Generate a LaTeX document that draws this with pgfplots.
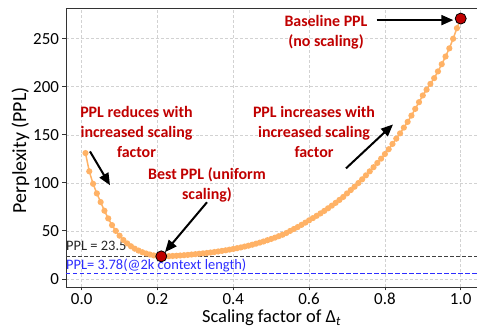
\documentclass[border=0pt]{standalone}
\usepackage{fontspec}
\setmainfont{Carlito}
\usepackage{pgfplots}
\pgfplotsset{compat=1.18}
\usetikzlibrary{arrows.meta}
\definecolor{curve}{RGB}{255,178,102}
\definecolor{dred}{RGB}{192,0,0}
\definecolor{pblue}{RGB}{45,45,255}
\begin{document}
\begin{tikzpicture}
\useasboundingbox (-66bp,-41bp) rectangle (411bp,287bp);
\begin{axis}[
  at={(0,0)}, anchor=south west,
  scale only axis, width=411bp, height=279bp,
  xmin=-0.0414, xmax=1.043, ymin=-8.4, ymax=282,
  axis x line*=box, axis y line*=left,
  axis line style={black!80, line width=0.9bp, -},
  xtick={0,0.2,0.4,0.6,0.8,1.0},
  xticklabels={0.0,0.2,0.4,0.6,0.8,1.0},
  ytick={0,50,100,150,200,250},
  tick pos=left,
  tick align=outside, major tick length=3.5bp,
  tick style={black!80, line width=0.8bp},
  /pgf/number format/assume math mode=true,
  tick label style={font=\fontsize{17}{20}\selectfont},
  xticklabel style={yshift=1bp},
  grid=major,
  grid style={densely dashed, gray!35, line width=0.6bp},
  xlabel={Scaling factor of Δ\textsubscript{\textit{t}}},
  xlabel style={font=\fontsize{18.5}{22}\selectfont, at={(axis description cs:0.5,-0.1275)}, anchor=base, inner sep=0pt},
  ylabel={Perplexity (PPL)},
  ylabel style={font=\fontsize{20}{24}\selectfont, at={(axis description cs:-0.0973,0.49)}, anchor=base},
  clip=false,
]
\addplot[black!75, dash pattern=on 4bp off 2bp, line width=1bp] coordinates {(-0.0414,23.5) (1.043,23.5)};
\addplot[pblue, dash pattern=on 4.5bp off 2.5bp, line width=1.1bp] coordinates {(-0.0414,5.8) (1.043,5.8)};
\addplot[curve, line width=1.5bp, mark=*, mark size=2.3bp, mark options={fill=curve, draw=curve}] coordinates {
(0.01,131) (0.02,112) (0.03,99) (0.04,89) (0.05,80) (0.06,71) (0.07,63) (0.08,56) (0.09,50) (0.10,45)
(0.11,40.5) (0.12,37) (0.13,34) (0.14,31.5) (0.15,29.5) (0.16,27.8) (0.17,26.5) (0.18,25.4) (0.19,24.5) (0.20,23.9)
(0.21,23.5) (0.22,23.6) (0.23,23.7) (0.24,23.9) (0.25,24.1) (0.26,24.4) (0.27,24.7) (0.28,25.0) (0.29,25.4) (0.30,25.8)
(0.31,26.2) (0.32,26.6) (0.33,27.0) (0.34,27.5) (0.35,28.0) (0.36,28.6) (0.37,29.2) (0.38,29.8) (0.39,30.5) (0.40,31.2)
(0.41,32.0) (0.42,32.8) (0.43,33.7) (0.44,34.6) (0.45,35.6) (0.46,36.7) (0.47,37.8) (0.48,39.0) (0.49,40.3) (0.50,41.6)
(0.51,43.0) (0.52,44.5) (0.53,46.0) (0.54,47.8) (0.55,50.0) (0.56,52.0) (0.57,54.0) (0.58,56.3) (0.59,58.6) (0.60,61.0)
(0.61,63.3) (0.62,65.7) (0.63,68.2) (0.64,70.8) (0.65,73.5) (0.66,76.3) (0.67,79.2) (0.68,82.2) (0.69,85.3) (0.70,89.0)
(0.71,92.5) (0.72,96.0) (0.73,99.8) (0.74,103.7) (0.75,107.8) (0.76,112.0) (0.77,116.3) (0.78,120.7) (0.79,125.2) (0.80,130.0)
(0.81,135.0) (0.82,140.5) (0.83,146.0) (0.84,151.5) (0.85,157.5) (0.86,163.5) (0.87,170.0) (0.88,177.0) (0.89,184.0) (0.90,191.0)
(0.91,197.0) (0.92,203.0) (0.93,209.0) (0.94,216.0) (0.95,223.5) (0.96,231.5) (0.97,240.0) (0.98,250.0) (0.99,261.0) (1.00,271.0)
};
\addplot[only marks, mark=*, mark size=5.5bp, mark options={fill=dred, draw=black, line width=0.8bp}] coordinates {(0.21,23.5) (1.0,271)};
\tikzset{ann/.style={text=dred, font=\fontsize{16}{20}\selectfont\bfseries, align=center, inner sep=0pt},
         arr/.style={black, line width=2bp, -{Triangle[length=12bp,width=10bp]}}}
\node[ann] at (axis cs:0.6446,256.6) {Baseline PPL\\(no scaling)};
\draw[arr] (axis cs:0.778,269.4) -- (axis cs:0.9805,269.4);
\node[ann] at (axis cs:0.1446,152.8) {PPL reduces with\\increased scaling\\factor};
\draw[arr] (axis cs:0.0219,132.7) -- (axis cs:0.0747,97.5);
\node[ann] at (axis cs:0.3306,97.8) {Best PPL (uniform\\scaling)};
\draw[arr] (axis cs:0.3306,79.8) -- (axis cs:0.2198,27.9);
\node[ann] at (axis cs:0.613,153.1) {PPL increases with\\increased scaling\\factor};
\draw[arr] (axis cs:0.6974,115.1) -- (axis cs:0.8214,160.8);
\node[anchor=west, inner sep=0pt, font=\fontsize{14.5}{17}\selectfont, text=black!85] at (axis cs:-0.0414,34.1) {PPL = 23.5};
\node[anchor=west, inner sep=0pt, font=\fontsize{14.5}{17}\selectfont, text=pblue] at (axis cs:-0.0414,13.7) {PPL= 3.78(@2k context length)};
\end{axis}
\end{tikzpicture}
\end{document}
